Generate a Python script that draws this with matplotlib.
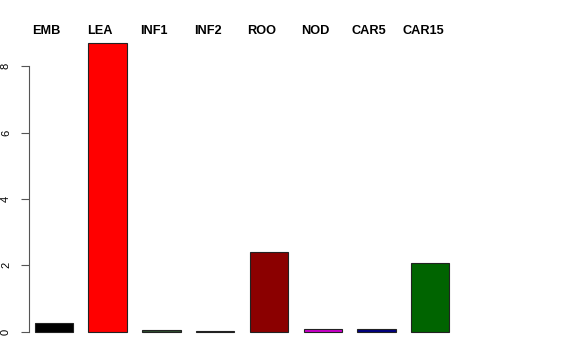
import matplotlib
matplotlib.use("Agg")
import matplotlib.pyplot as plt
import numpy as np

plt.rcParams['font.family'] = ['Liberation Sans', 'DejaVu Sans']

tissues = ["EMB", "LEA", "INF1", "INF2", "ROO", "NOD", "CAR5", "CAR15"]
values = [0.25, 8.69, 0.04, 0.02, 2.40, 0.09, 0.09, 2.07]
bar_colors = ["#000000", "#FF0000", "#2F4F2F", "#7F7F99", "#8B0000", "#CC00CC", "#000080", "#006400"]
y_ticks = [0, 2, 4, 6, 8]

fig = plt.figure(figsize=(5.76, 3.6), dpi=100)
ax = fig.add_axes([0, 0, 1, 1])

x = np.arange(len(tissues))
ax.bar(x, values, width=0.713, color=bar_colors, edgecolor="#222222", linewidth=0.8)

# pixel -> data mapping
ax.set_xlim(-1.0017, 9.71)
ax.set_ylim(-0.85, 9.99)

# names sit along the top, a little left of each bar's centre
for i, name in enumerate(tissues):
    ax.text(i - 0.136, 9.06, name, ha="center", va="center",
            fontsize=9.2, fontweight="bold")

for side in ["top", "right", "bottom"]:
    ax.spines[side].set_visible(False)
ax.spines["left"].set_position(("data", -0.462))
ax.spines["left"].set_bounds(0, 8)
ax.spines["left"].set_color("#555555")
ax.set_xticks([])
ax.set_yticks(y_ticks)
ax.set_yticklabels([str(t) for t in y_ticks], rotation=90, va="center", fontsize=8)
ax.tick_params(axis="y", length=6, width=0.8, color="#555555", pad=7)

fig.savefig("out.png", dpi=100)
